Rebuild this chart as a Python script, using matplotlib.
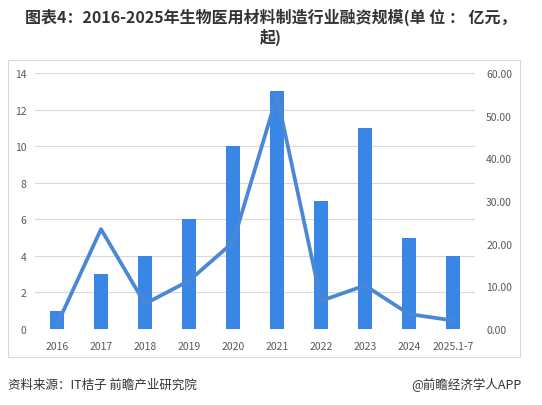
import matplotlib.pyplot as plt
from matplotlib.patches import Rectangle

plt.rcParams['font.family'] = ['Noto Sans CJK SC', 'DejaVu Sans']

years = ['2016', '2017', '2018', '2019', '2020', '2021', '2022', '2023', '2024', '2025.1-7']
deals = [1, 3, 4, 6, 10, 13, 7, 11, 5, 4]
amount = [1.0, 23.4, 5.9, 11.3, 20.3, 54.7, 6.6, 10.2, 3.5, 2.0]

bar_color = '#3A86E4'
line_color = '#4A88D6'
text_color = '#595959'

fig = plt.figure(figsize=(5.42, 4.06), dpi=100)

# light frame around the chart area
fig.patches.append(Rectangle((8 / 542, 1 - 358 / 406), 512 / 542, 297 / 406,
                             transform=fig.transFigure, fill=False,
                             edgecolor='#D9D9D9', linewidth=0.8))

ax = fig.add_axes([35 / 542, 1 - 330 / 406, 440 / 542, 256 / 406])
x = range(len(years))
ax.bar(x, deals, width=0.3, color=bar_color, zorder=2)
ax.set_ylim(0, 14)
ax.set_yticks(range(0, 15, 2))
ax.set_xlim(-0.5, len(years) - 0.5)
ax.set_xticks(list(x))
ax.set_xticklabels(years)
ax.grid(axis='y', color='#D9D9D9', linewidth=0.8, zorder=0)
for s in ax.spines.values():
    s.set_visible(False)
ax.tick_params(length=0, labelsize=7.5, colors=text_color)
ax.tick_params(axis='x', pad=9)
ax.tick_params(axis='y', pad=6)

ax2 = ax.twinx()
ax2.plot(list(x), amount, color=line_color, linewidth=2.7, zorder=3)
ax2.set_ylim(0, 60)
ax2.set_yticks(range(0, 61, 10))
ax2.set_yticklabels([f'{v:.2f}' for v in range(0, 61, 10)])
for s in ax2.spines.values():
    s.set_visible(False)
ax2.tick_params(length=0, labelsize=7.5, colors=text_color, pad=8)

fig.text(0.5, 1 - 17 / 406, '图表4：2016-2025年生物医用材料制造行业融资规模(单 位 ： 亿元，',
         ha='center', va='center', fontsize=11.5, fontweight='bold', color='#333333')
fig.text(0.5, 1 - 37 / 406, '起)', ha='center', va='center', fontsize=11.5,
         fontweight='bold', color='#333333')

fig.text(8 / 542, 1 - 385 / 406, '资料来源：IT桔子 前瞻产业研究院', ha='left', va='center',
         fontsize=9, color='#333333')
fig.text(522 / 542, 1 - 385 / 406, '@前瞻经济学人APP', ha='right', va='center',
         fontsize=9, color='#333333')

fig.savefig('out.png', dpi=100)
